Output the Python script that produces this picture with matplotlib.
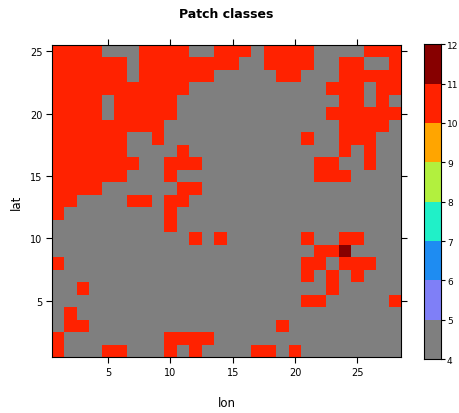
import numpy as np
import matplotlib
matplotlib.use('Agg')
import matplotlib.pyplot as plt
from matplotlib.colors import ListedColormap, BoundaryNorm

# patch class grid, top row = lat 25, columns lon 1..28
# '.' = class 4, 'r' = class 10, 'd' = class 11
patch_rows = [
    "rrrr...rrrr..rrr.rrrr....rrr",
    "rrrrrr.rrrrrrrr..rrrr..rr..r",
    "rrrrrr.rrrrrr.....rr...rrrrr",
    "rrrrrrrrrrr...........rrr.rr",
    "rrrr.rrrrr.............rr.r.",
    "rrrr.rrrrr............rrrrrr",
    "rrrrrrrrr..............rrrr.",
    "rrrrrr..r...........r..rrr..",
    "rrrrrr....r............r.r..",
    "rrrrrrr..rrr.........rr..r..",
    "rrrrrr...r...........rrr....",
    "rrrr......rr................",
    "rr....rr.rr.................",
    "r........r..................",
    ".........r..................",
    "...........r.r......r..rr...",
    ".....................rrd....",
    "r...................rr.rrr..",
    "....................r.r.r...",
    "..r...................r.....",
    "....................rr.....r",
    ".r..........................",
    ".rr...............r.........",
    "r........rrrr...............",
    "r...rr...r.r....rr.r........",
]
class_code = {'.': 4, 'r': 10, 'd': 11}

lon = np.arange(1, 29)
lat = np.arange(25, 0, -1)
levels = np.arange(4, 13)
level_colors = ['#7f7f7f', '#7f7ff7', '#1e8cf2', '#20f0c8',
                '#b2f03e', '#ffa500', '#ff2200', '#870000']

z = np.array([[class_code[ch] for ch in row] for row in patch_rows], dtype=float)

cmap = ListedColormap(level_colors)
norm = BoundaryNorm(levels, cmap.N)

fig = plt.figure(figsize=(4.6, 4.14), dpi=100)
ax = fig.add_axes([0.113, 0.135, 0.759, 0.754])
ax.pcolormesh(lon, lat, z, cmap=cmap, norm=norm, shading='nearest')
ax.set_xlim(0.5, 28.5)
ax.set_ylim(0.5, 25.5)
ax.set_xticks([5, 10, 15, 20, 25])
ax.set_yticks([5, 10, 15, 20, 25])
ax.tick_params(direction='out', length=4, width=0.8, top=True, right=True,
               labeltop=False, labelright=False, labelsize=7, pad=3)
for s in ax.spines.values():
    s.set_linewidth(0.8)
ax.set_xlabel('lon', fontsize=8.5, labelpad=14)
ax.set_ylabel('lat', fontsize=8.5, labelpad=5)
ax.set_title('Patch classes', fontsize=9, fontweight='bold', pad=20)

# colour key
cax = fig.add_axes([0.921, 0.130, 0.037, 0.761])
key = np.array(levels[:-1], dtype=float).reshape(-1, 1)
cax.pcolormesh([0, 1], levels, key, cmap=cmap, norm=norm, shading='flat')
cax.set_xlim(0, 1)
cax.set_ylim(4, 12)
cax.set_xticks([])
cax.yaxis.tick_right()
cax.set_yticks(levels)
cax.tick_params(direction='out', length=3, width=0.8, labelsize=6.5, pad=1.5)
for s in cax.spines.values():
    s.set_linewidth(0.8)

fig.savefig('out.png', dpi=100)
